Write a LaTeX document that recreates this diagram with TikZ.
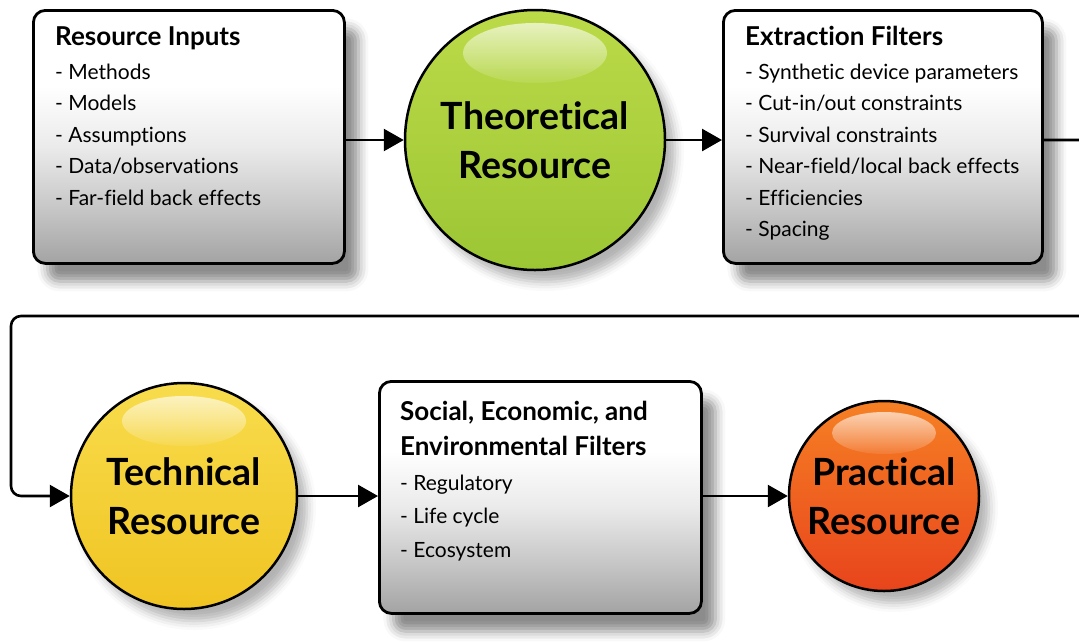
\documentclass[tikz,border=0pt]{standalone}
\usepackage{fontspec}
\setmainfont[Ligatures=NoCommon]{Lato}
\usetikzlibrary{arrows.meta,shadows.blur,fadings,calc}
\definecolor{grnT}{RGB}{188,218,72}
\definecolor{grnM}{RGB}{170,206,58}
\definecolor{grnB}{RGB}{156,198,52}
\definecolor{yelT}{RGB}{248,220,76}
\definecolor{yelM}{RGB}{245,207,50}
\definecolor{yelB}{RGB}{240,196,34}
\definecolor{orgT}{RGB}{246,128,36}
\definecolor{orgM}{RGB}{244,104,34}
\definecolor{orgB}{RGB}{232,68,28}
\pgfdeclareverticalshading{boxgrad}{100bp}{color(0bp)=(black!36); color(25bp)=(black!36); color(36bp)=(black!22); color(48bp)=(black!8); color(60bp)=(white); color(75bp)=(white); color(100bp)=(white)}
\tikzfading[name=glossfade, top color=transparent!35, bottom color=transparent!92]
\tikzset{
  box/.style={draw=black, line width=2.8pt, rounded corners=12pt, shading=boxgrad,
    blur shadow={shadow xshift=14pt, shadow yshift=-18pt, shadow opacity=45, shadow blur radius=10pt},
    inner sep=0pt, anchor=north west},
  ball/.style={circle, draw=black, line width=2.5pt, inner sep=0pt, align=center,
    font=\fontsize{37.5}{49}\selectfont\bfseries,
    blur shadow={shadow xshift=10pt, shadow yshift=-12pt, shadow opacity=30, shadow blur radius=9pt}},
  hdr/.style={font=\fontsize{26}{30}\selectfont\bfseries, inner sep=0pt, anchor=base west},
  itm/.style={font=\fontsize{21}{25}\selectfont, inner sep=0pt, anchor=base west},
  arr/.style={line width=2.6pt, -{Triangle[length=20pt,width=22pt]}},
  gloss/.style={fill=white, path fading=glossfade},
}
\begin{document}
\begin{tikzpicture}[x=1pt,y=-1pt]
\useasboundingbox (0,0) rectangle (1079,641);
\clip (0,0) rectangle (1079,641);
% boxes
\node[box, minimum width=311pt, minimum height=253pt] (ri) at (32,9) {};
\node[box, minimum width=319pt, minimum height=253pt] (ef) at (722,9) {};
\node[box, minimum width=322pt, minimum height=232pt] (se) at (378,380) {};
% box texts
\node[hdr] (ri-h) at (55,45) {Resource Inputs};
\foreach \t [count=\i] in {Methods,Models,Assumptions,Data/observations,Far-field back effects}
  \node[itm] (ri-\i) at (55,47.5+31.5*\i) {- \t};
\node[hdr] (ef-h) at (745,45) {Extraction Filters};
\foreach \t [count=\i] in {Synthetic device parameters,Cut-in/out constraints,Survival constraints,Near-field/local back effects,Efficiencies,Spacing}
  \node[itm] (ef-\i) at (745,47.5+31.5*\i) {- \t};
\node[hdr] (se-h1) at (400,420) {Social, Economic, and};
\node[hdr] (se-h2) at (400,455) {Environmental Filters};
\foreach \t [count=\i] in {Regulatory,Life cycle,Ecosystem}
  \node[itm] (se-\i) at (400,456.5+33.5*\i) {- \t};
% balls
\node[ball, minimum size=260pt, top color=grnT, middle color=grnM, bottom color=grnB] (th) at (535,140) {Theoretical\\Resource};
\node[ball, minimum size=226pt, top color=yelT, middle color=yelM, bottom color=yelB] (te) at (184,496) {Technical\\Resource};
\node[ball, minimum size=190pt, top color=orgT, middle color=orgM, bottom color=orgB] (pr) at (884,496) {Practical\\Resource};
% gloss highlights
\fill[gloss] ($(th.center)+(0,-87)$) ellipse [x radius=72pt, y radius=30pt];
\fill[gloss] ($(te.center)+(0,-75)$) ellipse [x radius=62pt, y radius=25pt];
\fill[gloss] ($(pr.center)+(0,-63)$) ellipse [x radius=52pt, y radius=21pt];
% connectors
\coordinate (c1) at (1096,140);
\coordinate (c2) at (1096,316);
\coordinate (c3) at (11,316);
\draw[arr] (ri.east |- th.west) -- (th.west);
\draw[arr] (th.east) -- (th.east -| ef.west);
\draw[arr, rounded corners=10pt] (ef.east |- th.east) -- (c1) -- (c2) -- (c3) -- (c3 |- te.west) -- (te.west);
\draw[arr] (te.east) -- (te.east -| se.west);
\draw[arr] (se.east |- pr.west) -- (pr.west);
\end{tikzpicture}
\end{document}
